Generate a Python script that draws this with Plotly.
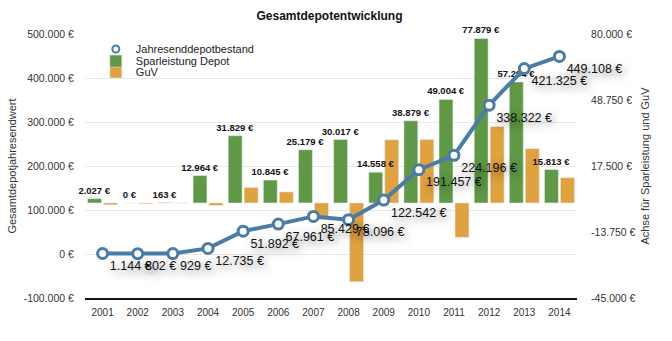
import plotly.graph_objects as go

years = ["2001", "2002", "2003", "2004", "2005", "2006", "2007", "2008", "2009", "2010", "2011", "2012", "2013", "2014"]
depot = [1144, 802, 929, 12735, 51892, 67961, 85429, 78096, 122542, 191457, 224196, 338322, 421325, 449108]
spar = [2027, 0, 163, 12964, 31829, 10845, 25179, 30017, 14558, 38879, 49004, 77879, 57294, 15813]
guv = [-883, -342, -36, -1158, 7328, 5224, -7711, -37350, 29888, 30036, -16265, 36247, 25709, 11970]

left_ticks = [-100000, 0, 100000, 200000, 300000, 400000, 500000]
left_labels = ["-100.000 €", "0 €", "100.000 €", "200.000 €", "300.000 €", "400.000 €", "500.000 €"]
right_ticks = [-45000, -13750, 17500, 48750, 80000]
right_labels = ["-45.000 €", "-13.750 €", "17.500 €", "48.750 €", "80.000 €"]

BLUE = "#4a7ca8"
GREEN = "#5f9945"
ORANGE = "#e0a13f"
FONT = "Liberation Sans, Arial, sans-serif"

fig = go.Figure()

# orange first so the green value labels are drawn on top of it
fig.add_trace(go.Bar(
    x=years, y=guv, name="GuV", marker_color=ORANGE,
    yaxis="y", legend="legend3", offset=0.03, width=0.395,
))
fig.add_trace(go.Bar(
    x=years, y=spar, name="Sparleistung Depot", marker_color=GREEN,
    yaxis="y", legend="legend2", offset=-0.425, width=0.395,
    texttemplate="%{y:,.0f} €", textposition="outside", constraintext="none",
    cliponaxis=False,
    textfont=dict(family=FONT, size=9.5, color="#111", weight="bold"),
))
fig.add_trace(go.Scatter(
    x=years, y=depot, name="Jahresenddepotbestand", mode="lines+markers+text",
    yaxis="y2", showlegend=False,
    line=dict(color=BLUE, width=4),
    marker=dict(symbol="circle", size=10, color="white", line=dict(color=BLUE, width=3)),
    texttemplate="%{y:,.0f} €", textposition="bottom right",
    textfont=dict(family=FONT, size=12.5, color="#111", shadow="2px 3px 8px rgba(0,0,0,0.5)"),
    cliponaxis=False,
))
fig.add_trace(go.Scatter(
    x=[None], y=[None], name="Jahresenddepotbestand", mode="markers",
    yaxis="y2", legend="legend",
    marker=dict(symbol="circle", size=7, color="white", line=dict(color=BLUE, width=2)),
))

leg = dict(bgcolor="rgba(0,0,0,0)", font=dict(family=FONT, size=11, color="#222"),
           xanchor="left", yanchor="middle", x=0.022, itemwidth=30)

fig.update_layout(
    width=672, height=341,
    margin=dict(l=82, r=95, t=34, b=43),
    paper_bgcolor="white", plot_bgcolor="white",
    separators=",.",
    font=dict(family=FONT, size=11, color="#333"),
    title=dict(text="<b>Gesamtdepotentwicklung</b>", x=(82 + 577) / 2 / 672, xanchor="center",
               y=1 - 16 / 341, yanchor="middle", yref="container",
               font=dict(family=FONT, size=12, color="#111")),
    barmode="overlay",
    xaxis=dict(type="category", range=[-0.5, len(years) - 0.5],
               showline=True, linecolor="#111", linewidth=1.5,
               showgrid=False, ticks="outside", ticklen=4, tickcolor="rgba(0,0,0,0)",
               tickfont=dict(family=FONT, size=10, color="#333")),
    yaxis=dict(side="right", range=[-45000, 80000], tickvals=right_ticks, ticktext=right_labels,
               showgrid=False, zeroline=False, ticks="outside", ticklen=11,
               tickcolor="rgba(0,0,0,0)",
               tickfont=dict(family=FONT, size=10.5, color="#333"),
               title=dict(text="Achse für Sparleistung und GuV", standoff=6,
                          font=dict(family=FONT, size=11, color="#333"))),
    yaxis2=dict(side="left", overlaying="y", range=[-100000, 500000],
                tickvals=left_ticks, ticktext=left_labels,
                showgrid=True, gridcolor="#e8e8e8", gridwidth=1, zeroline=False,
                ticks="outside", ticklen=8, tickcolor="rgba(0,0,0,0)",
                tickfont=dict(family=FONT, size=10.5, color="#333"),
                title=dict(text="Gesamtdepotjahresendwert", standoff=4,
                           font=dict(family=FONT, size=11, color="#333"))),
    legend=dict(leg, y=(298 - 49) / 264),
    legend2=dict(leg, y=(298 - 61) / 264),
    legend3=dict(leg, y=(298 - 72) / 264),
)

fig.write_html("out.html")
